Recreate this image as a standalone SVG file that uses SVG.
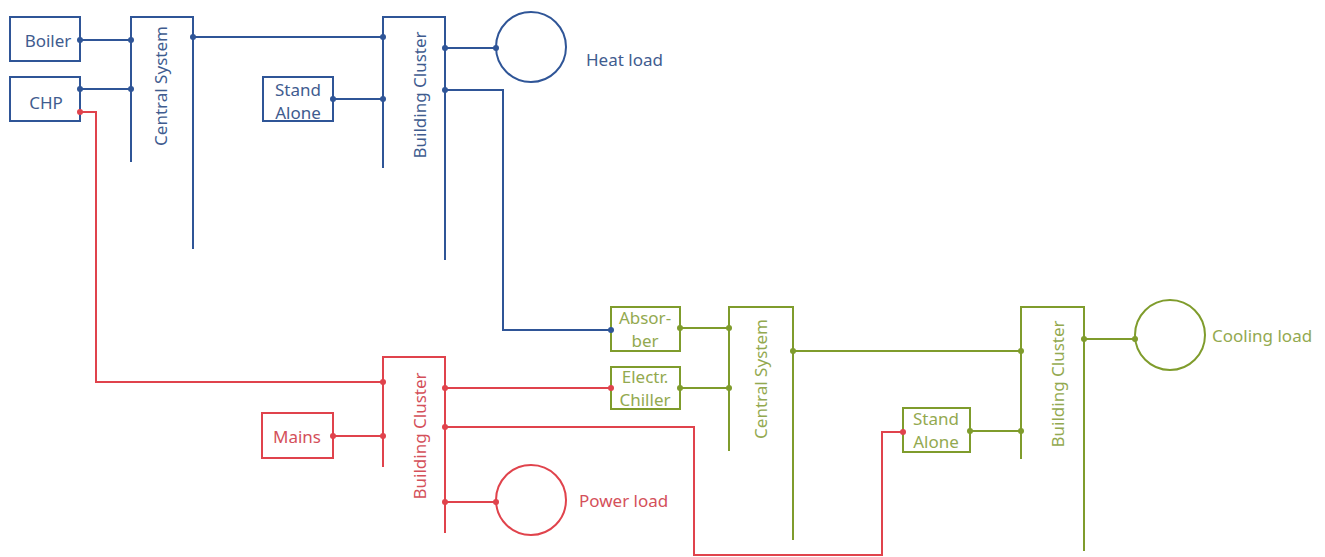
<svg xmlns="http://www.w3.org/2000/svg" width="1325" height="557" viewBox="0 0 1325 557">
<style>
text{font-family:"Noto Sans","Open Sans",sans-serif;font-size:17px;dominant-baseline:central;text-anchor:middle}
.b{stroke:#2F5597;fill:none;stroke-width:2}
.r{stroke:#E0434C;fill:none;stroke-width:2}
.g{stroke:#7F9C2C;fill:none;stroke-width:2}
.bt{fill:#3F5C8F}
.rt{fill:#D4505A}
.gt{fill:#93A94F}
.bd{fill:#2F5597}
.rd{fill:#E0434C}
.gd{fill:#7F9C2C}
.lab{text-anchor:start}
</style>
<rect width="1325" height="557" fill="#ffffff"/>
<g id="boiler"><rect class="b" x="10" y="17" width="70" height="44"/><text class="bt" x="48" y="40">Boiler</text></g>
<g id="chp"><rect class="b" x="10" y="77" width="70" height="44"/><text class="bt" x="46" y="102">CHP</text></g>
<g id="heat-central"><path class="b" d="M131,162 V17 H193 V249"/><text class="bt" transform="translate(160,86) rotate(-90)">Central System</text></g>
<g id="heat-standalone"><rect class="b" x="263" y="77" width="70" height="44"/><text class="bt" x="298" y="89">Stand</text><text class="bt" x="298" y="112">Alone</text></g>
<g id="heat-cluster"><path class="b" d="M383,168 V17 H445 V260"/><text class="bt" transform="translate(419,95) rotate(-90)">Building Cluster</text></g>
<g id="heat-load"><circle class="b" cx="531" cy="47" r="35"/><text class="bt lab" x="586" y="59">Heat load</text></g>
<g id="absorber"><rect class="g" x="611" y="307" width="69" height="44"/><text class="gt" x="645" y="317">Absor-</text><text class="gt" x="645" y="340">ber</text></g>
<g id="chiller"><rect class="g" x="611" y="367" width="69" height="42"/><text class="gt" x="645" y="376">Electr.</text><text class="gt" x="645" y="399">Chiller</text></g>
<g id="cool-central"><path class="g" d="M729,451 V307 H793 V540"/><text class="gt" transform="translate(760,379) rotate(-90)">Central System</text></g>
<g id="cool-standalone"><rect class="g" x="903" y="408" width="67" height="44"/><text class="gt" x="936" y="418">Stand</text><text class="gt" x="936" y="441">Alone</text></g>
<g id="cool-cluster"><path class="g" d="M1021,459 V307 H1084 V551"/><text class="gt" transform="translate(1057,384) rotate(-90)">Building Cluster</text></g>
<g id="cooling-load"><circle class="g" cx="1170" cy="335" r="35"/><text class="gt lab" x="1212" y="335">Cooling load</text></g>
<g id="mains"><rect class="r" x="262" y="413" width="71" height="45"/><text class="rt" x="297" y="436">Mains</text></g>
<g id="power-cluster"><path class="r" d="M383,467 V357 H445 V533"/><text class="rt" transform="translate(419,436) rotate(-90)">Building Cluster</text></g>
<g id="power-load"><circle class="r" cx="531" cy="500" r="35"/><text class="rt lab" x="579" y="500">Power load</text></g>
<g id="connectors">
<path class="b" d="M80,40 H131 M80,89 H131 M193,37 H383 M333,99 H383 M445,48 H496 M445,90 H503 V330 H611"/>
<path class="g" d="M680,328 H729 M680,388 H729 M793,351 H1021 M970,431 H1021 M1084,339 H1135"/>
<path class="r" d="M80,112 H96 V382 H383 M333,436 H383 M445,388 H611 M445,427 H694 V555 H882 V432 H903 M445,502 H496"/>
<g class="bd"><circle cx="80" cy="40" r="3"/><circle cx="131" cy="40" r="3"/><circle cx="80" cy="89" r="3"/><circle cx="131" cy="89" r="3"/><circle cx="193" cy="37" r="3"/><circle cx="383" cy="37" r="3"/><circle cx="333" cy="99" r="3"/><circle cx="383" cy="99" r="3"/><circle cx="445" cy="48" r="3"/><circle cx="496" cy="48" r="3"/><circle cx="445" cy="90" r="3"/><circle cx="611" cy="330" r="3"/></g>
<g class="gd"><circle cx="680" cy="328" r="3"/><circle cx="729" cy="328" r="3"/><circle cx="680" cy="388" r="3"/><circle cx="729" cy="388" r="3"/><circle cx="793" cy="351" r="3"/><circle cx="1021" cy="351" r="3"/><circle cx="970" cy="431" r="3"/><circle cx="1021" cy="431" r="3"/><circle cx="1084" cy="339" r="3"/><circle cx="1135" cy="339" r="3"/></g>
<g class="rd"><circle cx="80" cy="112" r="3"/><circle cx="383" cy="382" r="3"/><circle cx="333" cy="436" r="3"/><circle cx="383" cy="436" r="3"/><circle cx="445" cy="388" r="3"/><circle cx="611" cy="388" r="3"/><circle cx="445" cy="427" r="3"/><circle cx="903" cy="432" r="3"/><circle cx="445" cy="502" r="3"/><circle cx="496" cy="502" r="3"/></g>
</g>
</svg>
